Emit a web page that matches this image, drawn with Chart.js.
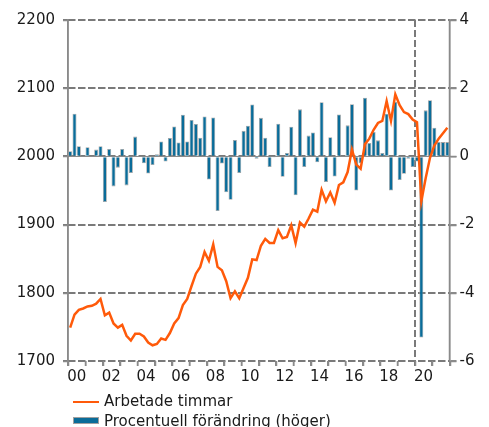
<!DOCTYPE html>
<html>
<head>
<meta charset="utf-8">
<script src="https://cdn.jsdelivr.net/npm/chart.js@4"></script>
<style>
  body { margin: 0; background: #fff; font-family: "DejaVu Sans", sans-serif; position: relative; }
  #myChart { display: block; }
  .legend__line { position: absolute; left: 73px; top: 400.5px; width: 26px; height: 2.5px; background: #ff5a0a; }
  .legend__box { position: absolute; left: 73px; top: 417px; width: 26px; height: 7px; background: #0a6c99; border: 1px solid #a0a0a0; box-sizing: border-box; }
  .legend__text { position: absolute; left: 104px; font-size: 15px; line-height: 20px; color: #1a1a1a; white-space: nowrap; }
</style>
</head>
<body>
<canvas id="myChart" width="489" height="427"></canvas>
<div class="legend__line"></div>
<div class="legend__text" style="top:390.5px">Arbetade timmar</div>
<div class="legend__box"></div>
<div class="legend__text" style="top:410.5px">Procentuell förändring (höger)</div>
<script>
'use strict';

// år 2000-2021, vartannat visas
var yearLabels = ['00', '01', '02', '03', '04', '05', '06', '07', '08', '09', '10',
    '11', '12', '13', '14', '15', '16', '17', '18', '19', '20', '21'];

// arbetade timmar, miljoner (vänster axel), kvartal 2000K1 - 2021K4
var hours = [
    1749, 1768, 1775, 1777,
    1780, 1781, 1784, 1791,
    1767, 1771, 1755, 1749,
    1753, 1737, 1730, 1740,
    1740, 1736, 1727, 1723,
    1725, 1733, 1731, 1741,
    1755, 1763, 1782, 1791,
    1810, 1828, 1838, 1860,
    1847, 1871, 1838, 1833,
    1817, 1792, 1802, 1792,
    1807, 1822, 1849, 1848,
    1869, 1879, 1873, 1873,
    1892, 1880, 1882, 1899,
    1873, 1903, 1897, 1909,
    1922, 1919, 1951, 1934,
    1947, 1932, 1958, 1962,
    1977, 2010, 1988, 1982,
    2018, 2026, 2039, 2049,
    2052, 2081, 2052, 2091,
    2075, 2065, 2062, 2054,
    2050, 1934, 1968, 1998,
    2016, 2026, 2034, 2042
];

// procentuell förändring (höger axel)
var change = [
    0.15, 1.25, 0.30, 0.03,
    0.27, 0.02, 0.20, 0.30,
    -1.34, 0.22, -0.88, -0.33,
    0.22, -0.85, -0.49, 0.58,
    0.02, -0.20, -0.50, -0.25,
    0.06, 0.44, -0.15, 0.54,
    0.88, 0.41, 1.22, 0.44,
    1.07, 0.95, 0.55, 1.17,
    -0.68, 1.14, -1.60, -0.21,
    -1.05, -1.27, 0.48, -0.49,
    0.75, 0.90, 1.52, -0.07,
    1.13, 0.55, -0.31, -0.02,
    0.96, -0.60, 0.10, 0.87,
    -1.14, 1.38, -0.31, 0.61,
    0.70, -0.17, 1.59, -0.75,
    0.56, -0.59, 1.23, 0.02,
    0.91, 1.53, -1.00, -0.20,
    1.72, 0.39, 0.72, 0.47,
    0.10, 1.25, -1.00, 1.60,
    -0.69, -0.51, -0.07, -0.31,
    -0.15, -5.31, 1.35, 1.65,
    0.84, 0.42, 0.42, 0.42
];

// streckad lodlinje vid 2020 (kvartal nr 80)
var breakQuarter = 80;

var gridGrey = '#7a7a7a';
var axisGrey = '#8a8a8a';

function line(ctx, x1, y1, x2, y2) {
    ctx.beginPath();
    ctx.moveTo(x1, y1);
    ctx.lineTo(x2, y2);
    ctx.stroke();
}

// stödlinjer, axlar och tickmarkeringar
var guides = {
    id: 'guides',
    beforeDatasetsDraw: function (chart) {
        var ctx = chart.ctx;
        var area = chart.chartArea;
        var sx = chart.scales.x, yL = chart.scales.yL, yR = chart.scales.yR;
        ctx.save();

        ctx.strokeStyle = gridGrey;
        ctx.lineWidth = 2;
        ctx.setLineDash([7, 3]);
        yL.ticks.forEach(function (t) {
            if (t.value === 2000) return;
            var y = Math.round(yL.getPixelForValue(t.value));
            line(ctx, area.left, y, area.right, y);
        });
        var bx = Math.round(sx.getPixelForValue(breakQuarter));
        line(ctx, bx, area.top, bx, area.bottom + 5);

        ctx.setLineDash([]);
        ctx.strokeStyle = axisGrey;
        ctx.lineWidth = 1;
        var y0 = Math.round(yR.getPixelForValue(0)) + 0.5;
        line(ctx, area.left, y0, area.right, y0);

        ctx.lineWidth = 1.5;
        line(ctx, area.left, area.top - 1, area.left, area.bottom);
        line(ctx, area.right, area.top - 1, area.right, area.bottom);
        yL.ticks.forEach(function (t) {
            var y = Math.round(yL.getPixelForValue(t.value)) + 0.5;
            line(ctx, area.left - 5, y, area.left, y);
        });
        yR.ticks.forEach(function (t) {
            var y = Math.round(yR.getPixelForValue(t.value)) + 0.5;
            line(ctx, area.right, y, area.right + 7, y);
        });
        sx.ticks.forEach(function (t) {
            var x = Math.round(sx.getPixelForValue(t.value)) + 0.5;
            line(ctx, x, area.bottom, x, area.bottom + 5);
        });
        ctx.restore();
    }
};

Chart.defaults.font.family = '"DejaVu Sans", sans-serif';
Chart.defaults.font.size = 15;
Chart.defaults.color = '#1a1a1a';

new Chart(document.getElementById("myChart"), {
    type: 'bar',
    data: {
        datasets: [{
            type: 'line',
            label: 'Arbetade timmar',
            data: hours.map(function (v, i) { return { x: i + 0.5, y: v }; }),
            borderColor: '#ff5a0a',
            borderWidth: 2.5,
            pointRadius: 0,
            tension: 0,
            fill: false,
            yAxisID: 'yL',
            order: 0
        }, {
            type: 'bar',
            label: 'Procentuell förändring (höger)',
            data: change.map(function (v, i) { return { x: i + 0.5, y: v }; }),
            backgroundColor: '#0a6c99',
            borderColor: '#a3a3a3',
            borderWidth: 0.8,
            categoryPercentage: 1,
            barPercentage: 0.92,
            yAxisID: 'yR',
            order: 1
        }]
    },
    plugins: [guides],
    options: {
        responsive: false,
        animation: false,
        layout: {
            padding: { left: 0, right: 0, top: 20, bottom: 0 }
        },
        plugins: {
            legend: { display: false },
            tooltip: { enabled: false }
        },
        scales: {
            x: {
                type: 'linear',
                min: 0,
                max: 88,
                offset: false,
                afterFit: function (s) { s.height = 66; },
                border: { display: false },
                grid: { offset: false, drawOnChartArea: false, color: axisGrey, lineWidth: 1.5, tickLength: 5 },
                ticks: {
                    stepSize: 4,
                    autoSkip: false,
                    maxRotation: 0,
                    padding: 2,
                    labelOffset: 8.67,
                    callback: function (value) {
                        var y = value / 4;
                        return (y % 2 === 0 && y < yearLabels.length) ? yearLabels[y] : '';
                    }
                }
            },
            yL: {
                position: 'left',
                min: 1700,
                max: 2200,
                afterFit: function (s) { s.width = 68; },
                border: { display: true, color: axisGrey, width: 1.5, dash: [7, 3] },
                grid: { color: gridGrey, lineWidth: 2, tickLength: 5 },
                ticks: { stepSize: 100, padding: 8, format: { useGrouping: false } }
            },
            yR: {
                position: 'right',
                min: -6,
                max: 4,
                afterFit: function (s) { s.width = 39.5; },
                border: { display: true, color: axisGrey, width: 1.5 },
                grid: { drawOnChartArea: false, color: axisGrey, lineWidth: 1.5, tickLength: 7 },
                ticks: { stepSize: 2, padding: 3 }
            }
        }
    }
});
</script>
</body>
</html>
